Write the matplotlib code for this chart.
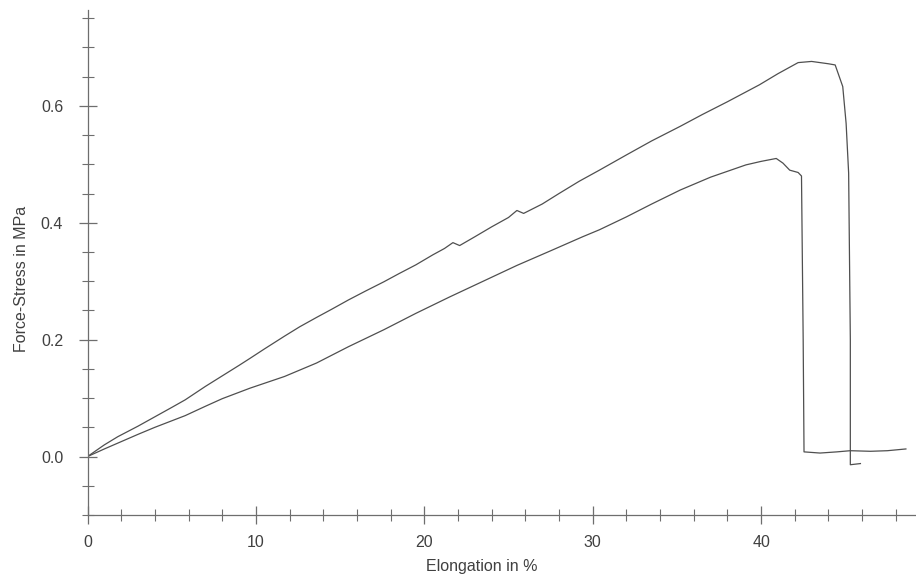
import matplotlib
matplotlib.use("Agg")
import matplotlib.pyplot as plt
from matplotlib.ticker import MultipleLocator, FixedLocator, FixedFormatter

# ---- data ----
upper_x = [0.0, 0.5, 1.0, 1.8, 3.0, 4.0, 5.0, 5.8, 7.0, 8.0, 9.0, 9.65, 10.5, 11.7,
           12.6, 13.6, 14.5, 15.5, 16.5, 17.6, 18.5, 19.5, 20.5, 21.2, 21.7, 22.1,
           23.0, 24.0, 25.0, 25.5, 25.9, 27.0, 28.0, 29.2, 30.4, 32.0, 33.5, 35.2,
           36.5, 38.0, 39.9, 41.0, 42.2, 43.0, 44.0, 44.4, 44.85, 45.05, 45.2,
           45.3, 45.3, 45.9]
upper_y = [0.000, 0.010, 0.020, 0.034, 0.052, 0.068, 0.084, 0.097, 0.120, 0.138,
           0.156, 0.168, 0.184, 0.206, 0.222, 0.238, 0.252, 0.268, 0.283, 0.299,
           0.313, 0.328, 0.345, 0.356, 0.366, 0.361, 0.376, 0.393, 0.409, 0.421,
           0.416, 0.432, 0.450, 0.471, 0.490, 0.516, 0.540, 0.565, 0.585, 0.607,
           0.636, 0.655, 0.674, 0.676, 0.672, 0.670, 0.633, 0.570, 0.485,
           0.200, -0.014, -0.012]

lower_x = [0.0, 1.0, 1.8, 3.0, 4.0, 5.8, 7.0, 8.0, 9.65, 11.7, 13.6, 15.5, 17.6,
           19.5, 21.5, 23.5, 25.5, 27.5, 29.4, 30.4, 32.0, 33.5, 35.2, 37.0, 39.1,
           40.0, 40.9, 41.3, 41.7, 42.2, 42.4, 42.5, 42.55, 43.5, 44.5, 45.3, 46.5,
           47.5, 48.6]
lower_y = [0.000, 0.013, 0.023, 0.038, 0.050, 0.070, 0.086, 0.099, 0.117, 0.137,
           0.160, 0.188, 0.217, 0.245, 0.273, 0.300, 0.327, 0.352, 0.376, 0.388,
           0.410, 0.432, 0.456, 0.478, 0.499, 0.505, 0.510, 0.502, 0.490, 0.486,
           0.480, 0.200, 0.008, 0.006, 0.008, 0.010, 0.009, 0.010, 0.013]

x_major = [0, 10, 20, 30, 40]
x_major_labels = ["0", "10", "20", "30", "40"]
y_major = [0.0, 0.2, 0.4, 0.6]
y_major_labels = ["0.0", "0.2", "0.4", "0.6"]

x_label = "Elongation in %"
y_label = "Force-Stress in MPa"

# ---- figure ----
plt.rcParams['font.family'] = ['Liberation Sans', 'DejaVu Sans']
W, H = 916, 576
fig = plt.figure(figsize=(W / 100, H / 100), dpi=100)
fig.patch.set_facecolor('white')

left_px, right_px, top_px, bottom_px = 87.5, 916, 10, 515
ax = fig.add_axes([left_px / W, 1 - bottom_px / H,
                   (right_px - left_px) / W, (bottom_px - top_px) / H])
ax.set_xlim(0, 49.2)
ax.set_ylim(-0.1, 0.764)

line_color = '#4f4f4f'
ax.plot(upper_x, upper_y, color=line_color, lw=0.9)
ax.plot(lower_x, lower_y, color=line_color, lw=0.9)

for s in ['top', 'right']:
    ax.spines[s].set_visible(False)
for s in ['left', 'bottom']:
    ax.spines[s].set_color('#6e6e6e')
    ax.spines[s].set_linewidth(0.9)

ax.xaxis.set_major_locator(FixedLocator(x_major))
ax.xaxis.set_major_formatter(FixedFormatter(x_major_labels))
ax.xaxis.set_minor_locator(MultipleLocator(2))
ax.yaxis.set_major_locator(FixedLocator(y_major))
ax.yaxis.set_major_formatter(FixedFormatter(y_major_labels))
ax.yaxis.set_minor_locator(MultipleLocator(0.05))

text_color = '#404040'
ax.tick_params(which='major', direction='inout', length=13, width=0.9,
               color='#6e6e6e', labelsize=11.5, labelcolor=text_color)
ax.tick_params(which='minor', direction='inout', length=9, width=0.8,
               color='#6e6e6e')
ax.tick_params(axis='y', which='major', pad=11)
ax.tick_params(axis='x', which='major', pad=8)

ax.set_xlabel(x_label, fontsize=11.5, color=text_color)
ax.xaxis.label.set_va('center')
ax.xaxis.set_label_coords((481.7 - left_px) / (right_px - left_px),
                          (bottom_px - 566.7) / (bottom_px - top_px))
ax.set_ylabel(y_label, fontsize=11.5, color=text_color)
ax.yaxis.label.set_va('center')
ax.yaxis.set_label_coords((21.5 - left_px) / (right_px - left_px),
                          (bottom_px - 279) / (bottom_px - top_px))

fig.savefig('out.png', dpi=100, facecolor='white')
